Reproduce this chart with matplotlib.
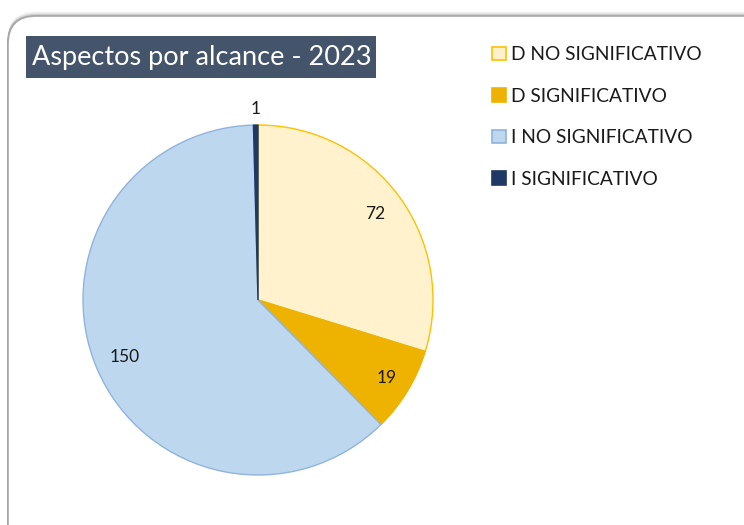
import numpy as np
import matplotlib
matplotlib.use("Agg")
import matplotlib.pyplot as plt
from matplotlib.patches import FancyBboxPatch, Rectangle

categories = ["D NO SIGNIFICATIVO", "D SIGNIFICATIVO", "I NO SIGNIFICATIVO", "I SIGNIFICATIVO"]
values = [72, 19, 150, 1]
title = "Aspectos por alcance - 2023"

face_colors = ["#FFF2CC", "#EEB300", "#BDD7EE", "#1F3864"]
edge_colors = ["#FFC000", "#EEB300", "#8FB4DE", "#1F3864"]

plt.rcParams['font.family'] = ['Lato', 'DejaVu Sans']

fig = plt.figure(figsize=(7.44, 5.25), dpi=100)
fig.patch.set_facecolor("white")

# background frame axes in pixel coordinates
bg = fig.add_axes([0, 0, 1, 1], zorder=0)
bg.set_xlim(0, 744)
bg.set_ylim(525, 0)
bg.axis("off")
for i, a in enumerate([0.35, 0.22, 0.12, 0.06, 0.03]):
    bg.add_patch(FancyBboxPatch((8, 16 - i), 800, 600, boxstyle="round,pad=0,rounding_size=28",
                                facecolor="none", edgecolor=(0.3, 0.3, 0.3, a), linewidth=1.2))
bg.add_patch(FancyBboxPatch((8, 16), 800, 600, boxstyle="round,pad=0,rounding_size=28",
                            facecolor="white", edgecolor="#A8A8A8", linewidth=1.2))

# title
bg.add_patch(Rectangle((26, 36), 350, 42, facecolor="#44546A", edgecolor="none"))
bg.text(32, 58, title, color="white", fontsize=19.5, va="center", ha="left")

# pie
ax = fig.add_axes([83 / 744, (525 - 475) / 525, 350 / 744, 350 / 525], zorder=1)
wedges, _ = ax.pie(values, startangle=90, counterclock=False, radius=1,
                   colors=face_colors,
                   wedgeprops=dict(linewidth=1.0))
for w, ec in zip(wedges, edge_colors):
    w.set_edgecolor(ec)
ax.set_xlim(-1, 1)
ax.set_ylim(-1, 1)
ax.set_aspect("equal")
ax.axis("off")

total = sum(values)
label_r = [0.83, 0.86, 0.83, 1.09]
cum = 0
for v, r in zip(values, label_r):
    mid = (cum + v / 2) / total * 2 * np.pi
    cum += v
    x = r * np.sin(mid)
    y = r * np.cos(mid)
    ax.text(x, y, str(v), ha="center", va="center", fontsize=12.5, color="#1A1A1A")

# legend
handles = [Rectangle((0, 0), 1, 1, facecolor=fc, edgecolor=ec, linewidth=1.2)
           for fc, ec in zip(face_colors, edge_colors)]
leg = fig.legend(handles, categories, loc="upper left", bbox_to_anchor=(475 / 744, 1 - 29 / 525),
                 frameon=False, fontsize=13.8, handlelength=0.7, handleheight=0.7,
                 handletextpad=0.3, labelspacing=1.28, labelcolor="#1A1A1A")

fig.savefig("out.png", dpi=100)
